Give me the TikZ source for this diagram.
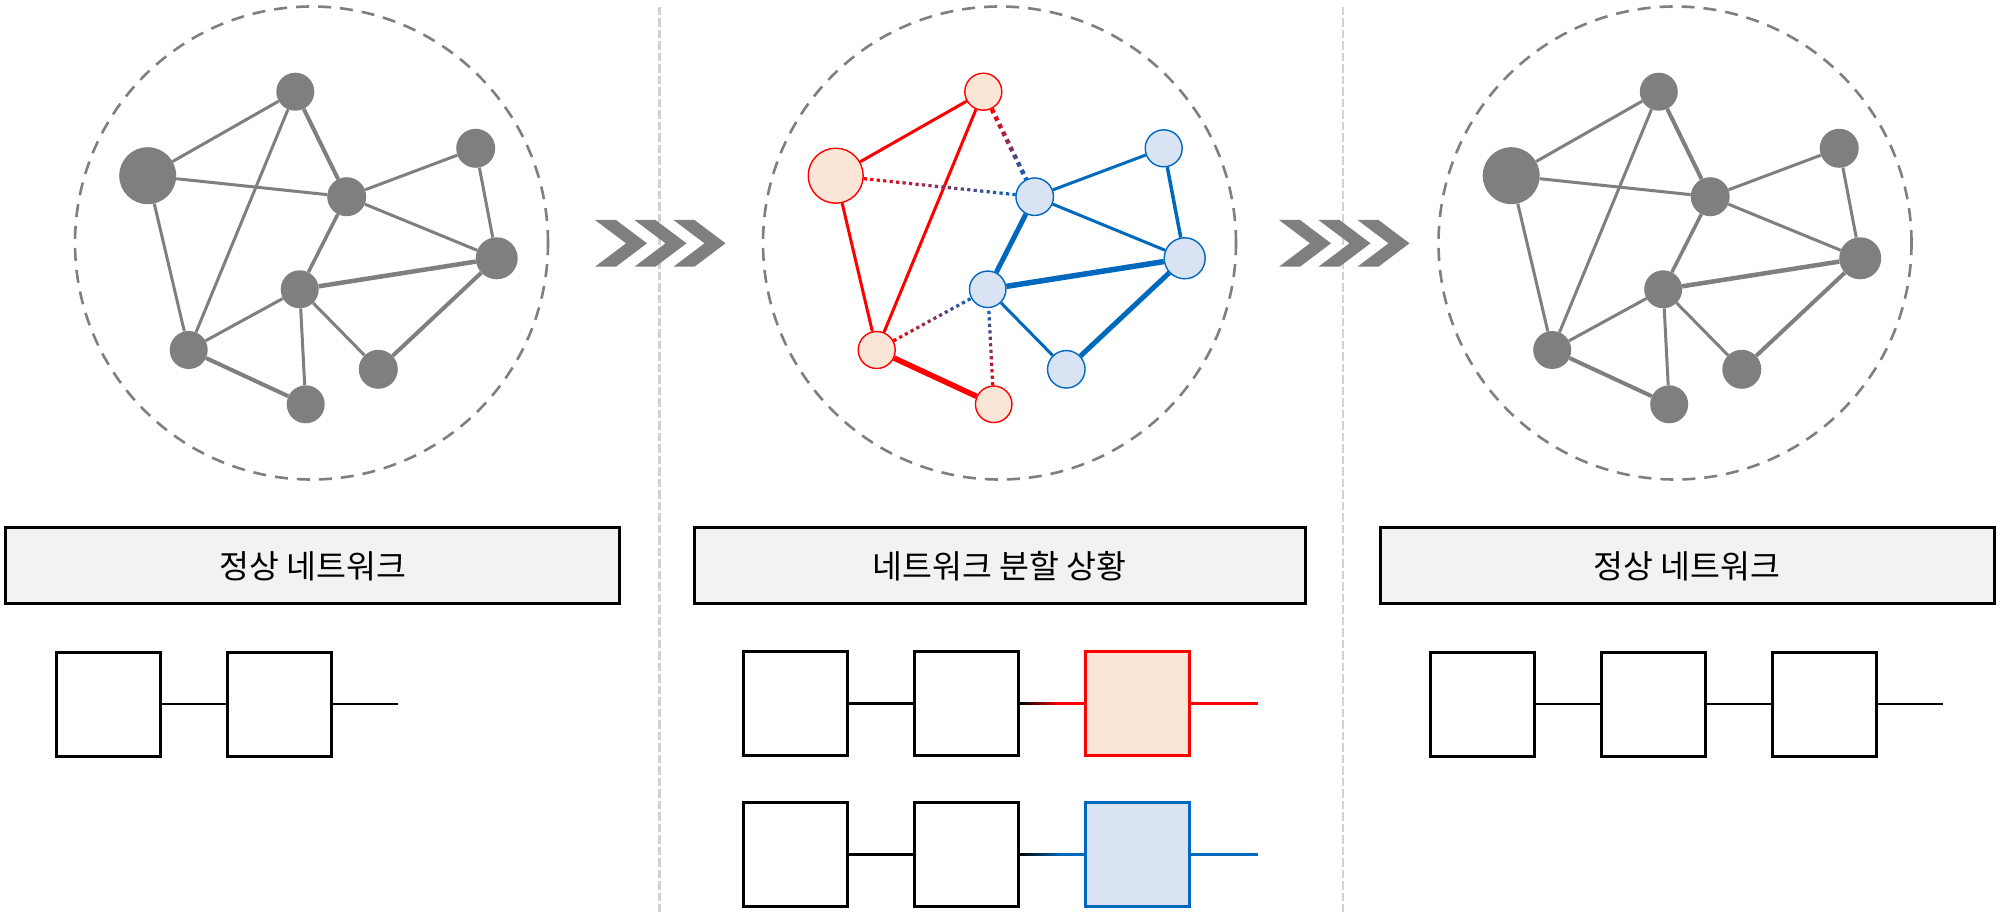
\documentclass[tikz,border=0pt]{standalone}
\usepackage{fontspec}
\newfontfamily\krfont{Noto Sans CJK KR}
\usetikzlibrary{decorations.markings,backgrounds}
\definecolor{ngray}{HTML}{7F7F7F}
\definecolor{nred}{HTML}{FF0000}
\definecolor{npeach}{HTML}{FBE5D6}
\definecolor{nblue}{HTML}{0068BD}
\definecolor{nlblue}{HTML}{DAE3F3}
\definecolor{boxgray}{HTML}{F2F2F2}
\definecolor{sepgray}{HTML}{D2D2D2}
\tikzset{
  gnode/.style={circle,fill=ngray,inner sep=0pt,minimum size=#1},
  rnode/.style={circle,fill=npeach,draw=nred,line width=1.4pt,inner sep=0pt,minimum size=#1},
  bnode/.style={circle,fill=nlblue,draw=nblue,line width=1.4pt,inner sep=0pt,minimum size=#1},
  gedge/.style={draw=ngray,line width=#1},
  redge/.style={draw=nred,line width=#1},
  bedge/.style={draw=nblue,line width=#1},
  halo/.style={circle,draw=ngray,line width=2.6pt,dash pattern=on 13pt off 9pt,inner sep=0pt},
  sepline/.style={draw=sepgray,line width=2.4pt,dash pattern=on 8.5pt off 3pt},
  labelbox/.style={draw=black,fill=boxgray,line width=3pt,minimum height=76pt,inner sep=0pt,font=\krfont\fontsize{32.5}{38}\selectfont},
  sq/.style={draw=black,fill=white,line width=3pt,minimum size=104pt,inner sep=0pt},
  sqred/.style={sq,draw=nred,fill=npeach},
  sqblue/.style={sq,draw=nblue,fill=nlblue},
  link/.style={draw=#1,line width=2.8pt},
  link/.default=black,
  chev/.style={fill=ngray},
  gdot/.style n args={4}{decoration={markings,mark=between positions 0 and 1 step #4 with {%
      \pgfmathtruncatemacro\gmix{100*(1-\pgfkeysvalueof{/pgf/decoration/mark info/distance from start}/\pgfdecoratedpathlength)}%
      \fill[#1!\gmix!#2] (0pt,-0.5*#3pt) rectangle (#3pt,0.5*#3pt);}},decorate},
  gfade/.style={decoration={markings,mark=between positions 0 and 1 step 1pt with {%
      \pgfmathtruncatemacro\gmix{max(0,100*(1-1.6*\pgfkeysvalueof{/pgf/decoration/mark info/distance from start}/\pgfdecoratedpathlength))}%
      \fill[black!\gmix!#1] (0pt,-1.4pt) rectangle (1.3pt,1.4pt);}},decorate},
}
\newcommand\graynet[2]{%
  \begin{scope}[xshift=#2pt]
    \node[gnode=38] (#1A) at (295.3,91.7) {};
    \node[gnode=57] (#1B) at (147.7,175.7) {};
    \node[gnode=39] (#1C) at (346.7,196.7) {};
    \node[gnode=39] (#1D) at (475.7,148.3) {};
    \node[gnode=42] (#1E) at (496.7,258.3) {};
    \node[gnode=38] (#1F) at (299.7,289.3) {};
    \node[gnode=38] (#1G) at (188.7,350) {};
    \node[gnode=38] (#1H) at (305.7,404.3) {};
    \node[gnode=39] (#1I) at (378.3,369.3) {};
    \node[halo,minimum size=473] (#1R) at (311.5,243) {};
    \begin{pgfonlayer}{background}
      \draw[gedge=3pt] (#1B) -- (#1A);
      \draw[gedge=3pt] (#1B) -- (#1C);
      \draw[gedge=3pt] (#1B) -- (#1G);
      \draw[gedge=4pt] (#1A) -- (#1C);
      \draw[gedge=3pt] (#1A) -- (#1G);
      \draw[gedge=3pt] (#1C) -- (#1D);
      \draw[gedge=3pt] (#1C) -- (#1E);
      \draw[gedge=3.5pt] (#1C) -- (#1F);
      \draw[gedge=3pt] (#1D) -- (#1E);
      \draw[gedge=4.5pt] (#1F) -- (#1E);
      \draw[gedge=3pt] (#1F) -- (#1G);
      \draw[gedge=3pt] (#1F) -- (#1H);
      \draw[gedge=3pt] (#1F) -- (#1I);
      \draw[gedge=4pt] (#1G) -- (#1H);
      \draw[gedge=4pt] (#1I) -- (#1E);
    \end{pgfonlayer}
  \end{scope}}
\begin{document}
\begin{tikzpicture}[x=1pt,y=-1pt]
  \useasboundingbox (0,0) rectangle (2000,912);
  \begin{pgfonlayer}{background}
    \fill[white] (0,0) rectangle (2000,912);
  \end{pgfonlayer}
  % separators
  \draw[sepline] (659.3,7) -- (659.3,912);
  \draw[sepline] (1343,7) -- (1343,912);
  % chevrons
  \foreach \x in {595,634.5,673.5,1279,1318.5,1357.5}
    \fill[chev] (\x,220) -- ++(21,0) -- ++(31,23.3) -- ++(-31,23.4) -- ++(-21,0) -- ++(31,-23.4) -- cycle;
  % left and right networks
  \graynet{L}{0}
  \graynet{R}{1363.5}
  % middle network
  \begin{scope}[xshift=688pt]
    \node[rnode=37] (MA) at (295.3,91.7) {};
    \node[rnode=55] (MB) at (147.7,175.7) {};
    \node[bnode=37.5] (MC) at (346.7,196.7) {};
    \node[bnode=37] (MD) at (475.7,148.3) {};
    \node[bnode=41] (ME) at (496.7,258.3) {};
    \node[bnode=36.5] (MF) at (299.7,289.3) {};
    \node[rnode=37] (MG) at (188.7,350) {};
    \node[rnode=36.5] (MH) at (305.7,404.3) {};
    \node[bnode=37.5] (MI) at (378.3,369.3) {};
    \node[halo,minimum size=473] (MR) at (311.5,243) {};
    \begin{pgfonlayer}{background}
      \draw[redge=3pt] (MB) -- (MA);
      \draw[redge=3pt] (MA) -- (MG);
      \draw[redge=3pt] (MB) -- (MG);
      \draw[redge=5.5pt] (MG) -- (MH);
      \draw[bedge=3pt] (MC) -- (MD);
      \draw[bedge=3pt] (MC) -- (ME);
      \draw[bedge=3.5pt] (MD) -- (ME);
      \draw[bedge=5pt] (MC) -- (MF);
      \draw[bedge=5.5pt] (MF) -- (ME);
      \draw[bedge=3pt] (MF) -- (MI);
      \draw[bedge=5pt] (MI) -- (ME);
      \path[gdot={nred}{nblue}{4.5}{8.5pt}] (MA) -- (MC);
      \path[gdot={nred}{nblue}{3.2}{6.5pt}] (MB) -- (MC);
      \path[gdot={nred}{nblue}{3.2}{6.5pt}] (MG) -- (MF);
      \path[gdot={nred}{nblue}{3.2}{6.5pt}] (MH) -- (MF);
    \end{pgfonlayer}
  \end{scope}
  % label boxes
  \node[labelbox,minimum width=614] (lab1) at (312.9,565.9) {정상 네트워크};
  \node[labelbox,minimum width=611] (lab2) at (999.5,565.9) {네트워크 분할 상황};
  \node[labelbox,minimum width=614] (lab3) at (1687,565.9) {정상 네트워크};
  % left chain
  \node[sq] (l1) at (108,704) {};
  \node[sq] (l2) at (279.2,704) {};
  \coordinate (lend) at (397.7,704);
  \draw[link] (l1) -- (l2);
  \draw[link] (l2) -- (lend);
  % middle chains
  \node[sq] (m11) at (795.2,703.5) {};
  \node[sq] (m12) at (966.7,703.5) {};
  \node[sqred] (m13) at (1137.7,703.5) {};
  \coordinate (m1end) at (1258,703.5);
  \draw[link] (m11) -- (m12);
  \path[gfade=nred] (m12) -- (m13);
  \draw[link=nred] (m13) -- (m1end);
  \node[sq] (m21) at (795.2,854.7) {};
  \node[sq] (m22) at (966.7,854.7) {};
  \node[sqblue] (m23) at (1137.7,854.7) {};
  \coordinate (m2end) at (1258,854.7);
  \draw[link] (m21) -- (m22);
  \path[gfade=nblue] (m22) -- (m23);
  \draw[link=nblue] (m23) -- (m2end);
  % right chain
  \node[sq] (r1) at (1482,704) {};
  \node[sq] (r2) at (1653.2,704) {};
  \node[sq] (r3) at (1824.8,704) {};
  \coordinate (rend) at (1942.6,704);
  \draw[link] (r1) -- (r2);
  \draw[link] (r2) -- (r3);
  \draw[link] (r3) -- (rend);
\end{tikzpicture}
\end{document}
